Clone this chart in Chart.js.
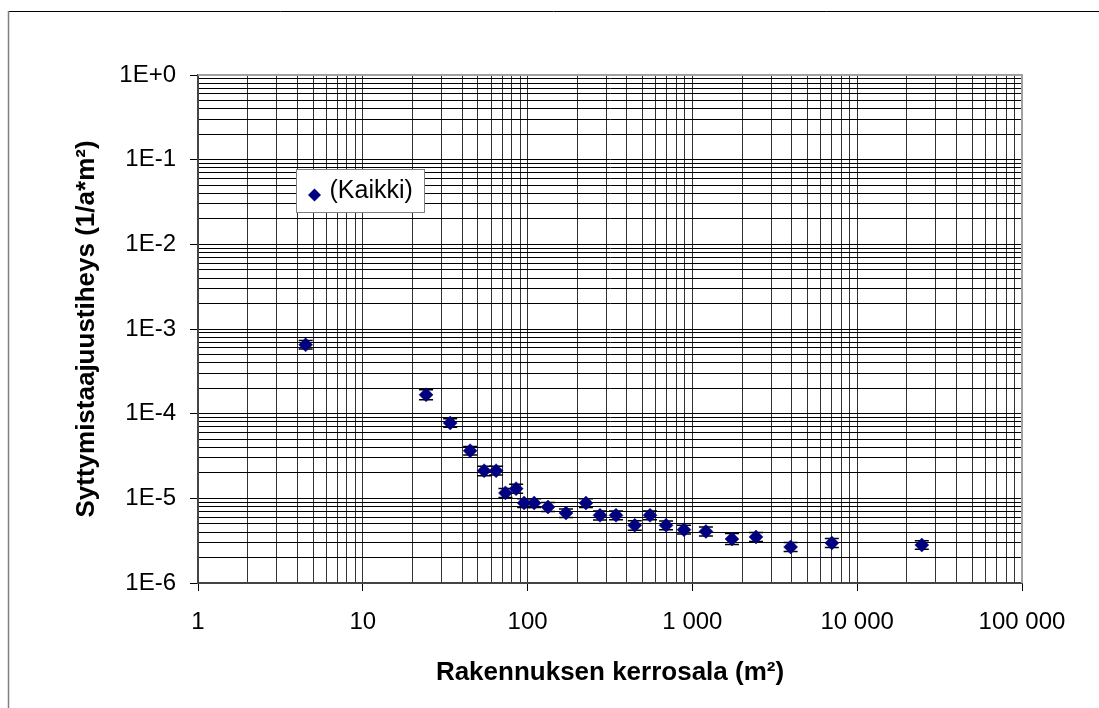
<!DOCTYPE html>
<html>
<head>
<meta charset="utf-8">
<script src="https://cdn.jsdelivr.net/npm/chart.js@4/dist/chart.umd.min.js"></script>
<style>
  html, body { margin: 0; padding: 0; background: #fff; }
  #wrap { width: 1099px; height: 708px; position: relative; }
  canvas { display: block; }
</style>
</head>
<body>
<div id="wrap"><canvas id="chart" width="1099" height="708"></canvas></div>
<script>
// Series: ignition frequency density by building floor area
const seriesName = '(Kaikki)';
const floorArea = [4.5, 24.2, 33.9, 44.8, 54.5, 64.4, 73.4, 85.2, 95.3, 109.6, 133, 171, 226, 275, 344, 447, 553, 692, 889, 1208, 1738, 2432, 3945, 7015, 24660];
const ignitionDensity = [6.5e-4, 1.67e-4, 7.75e-5, 3.65e-5, 2.12e-5, 2.12e-5, 1.16e-5, 1.30e-5, 8.8e-6, 8.8e-6, 7.9e-6, 6.7e-6, 8.8e-6, 6.3e-6, 6.3e-6, 4.8e-6, 6.3e-6, 4.8e-6, 4.26e-6, 4.07e-6, 3.31e-6, 3.50e-6, 2.66e-6, 2.97e-6, 2.81e-6];
const densityLow = [5.8e-4, 1.46e-4, 6.9e-5, 3.25e-5, 1.85e-5, 1.88e-5, 1.02e-5, 1.15e-5, 7.8e-6, 7.8e-6, 7.0e-6, 5.95e-6, 7.8e-6, 5.55e-6, 5.6e-6, 4.2e-6, 5.6e-6, 4.25e-6, 3.8e-6, 3.6e-6, 2.85e-6, 3.1e-6, 2.35e-6, 2.62e-6, 2.5e-6];
const densityHigh = [7.3e-4, 1.92e-4, 8.7e-5, 4.1e-5, 2.4e-5, 2.4e-5, 1.31e-5, 1.47e-5, 9.9e-6, 9.9e-6, 8.9e-6, 7.5e-6, 9.9e-6, 7.1e-6, 7.1e-6, 5.45e-6, 7.1e-6, 5.4e-6, 4.8e-6, 4.6e-6, 3.85e-6, 3.95e-6, 3.0e-6, 3.35e-6, 3.15e-6];

// Axis labels
const xTickLabels = ['1', '10', '100', '1 000', '10 000', '100 000'];
const yTickLabels = ['1E-6', '1E-5', '1E-4', '1E-3', '1E-2', '1E-1', '1E+0'];
const xTitle = 'Rakennuksen kerrosala (m²)';
const yTitle = 'Syttymistaajuustiheys (1/a*m²)';

const FONT = '"Liberation Sans", Arial, Helvetica, sans-serif';

// Decade ticks with minor steps 2..9 in between (grid lines at every step, labels only on decades)
function logTicks(firstExp, labels) {
  const out = [];
  for (let d = 0; d < labels.length; d++) {
    const base = Math.pow(10, firstExp + d);
    out.push({ value: base, lbl: labels[d], isMajor: true });
    if (d < labels.length - 1) {
      for (let m = 2; m <= 9; m++) out.push({ value: m * base, lbl: '', isMajor: false });
    }
  }
  return out;
}

const majorTickColor = (c) => (c.tick && c.tick.isMajor) ? '#000' : 'rgba(0,0,0,0)';

// Outer frame behind everything
const frame = {
  id: 'frame',
  beforeDraw(chart) {
    const ctx = chart.ctx;
    ctx.save();
    ctx.fillStyle = '#fff';
    ctx.fillRect(0, 0, chart.width, chart.height);
    ctx.strokeStyle = '#000';
    ctx.lineWidth = 1;
    ctx.beginPath();
    ctx.moveTo(8, 11.5);
    ctx.lineTo(chart.width, 11.5);
    ctx.stroke();
    ctx.strokeStyle = '#808080';
    ctx.lineWidth = 1.5;
    ctx.beginPath();
    ctx.moveTo(8.5, 11);
    ctx.lineTo(8.5, chart.height);
    ctx.stroke();
    ctx.restore();
  }
};

// Grey plot-area edge on top/right, then error bars under the markers
const errorBars = {
  id: 'errorBars',
  beforeDatasetsDraw(chart) {
    const { ctx, chartArea: a, scales: { x, y } } = chart;
    ctx.save();
    ctx.strokeStyle = '#a0a0a0';
    ctx.lineWidth = 2;
    ctx.beginPath();
    ctx.moveTo(a.left, a.top);
    ctx.lineTo(a.right, a.top);
    ctx.lineTo(a.right, a.bottom);
    ctx.stroke();

    ctx.strokeStyle = '#000';
    ctx.lineWidth = 1.5;
    floorArea.forEach((v, i) => {
      const px = x.getPixelForValue(v);
      const yl = y.getPixelForValue(densityLow[i]);
      const yh = y.getPixelForValue(densityHigh[i]);
      ctx.beginPath();
      ctx.moveTo(px, yl); ctx.lineTo(px, yh);
      ctx.moveTo(px - 7, yl); ctx.lineTo(px + 7, yl);
      ctx.moveTo(px - 7, yh); ctx.lineTo(px + 7, yh);
      ctx.stroke();
    });
    ctx.restore();
  }
};

// Boxed legend inside the plot area
const boxLegend = {
  id: 'boxLegend',
  afterDraw(chart) {
    const { ctx, chartArea: a } = chart;
    const bx = a.left + 98.5, by = a.top + 94.5, bw = 128, bh = 43;
    ctx.save();
    ctx.fillStyle = '#fff';
    ctx.fillRect(bx, by, bw, bh);
    ctx.strokeStyle = '#808080';
    ctx.lineWidth = 1;
    ctx.strokeRect(bx, by, bw, bh);
    const mx = bx + 18, my = by + 25.5, r = 6.5;
    ctx.fillStyle = '#000080';
    ctx.beginPath();
    ctx.moveTo(mx, my - r); ctx.lineTo(mx + r, my); ctx.lineTo(mx, my + r); ctx.lineTo(mx - r, my);
    ctx.closePath();
    ctx.fill();
    ctx.fillStyle = '#000';
    ctx.font = '25px ' + FONT;
    ctx.textBaseline = 'middle';
    ctx.textAlign = 'left';
    ctx.fillText(chart.data.datasets[0].label, bx + 33, by + 22);
    ctx.restore();
  }
};

new Chart(document.getElementById('chart'), {
  type: 'scatter',
  data: {
    datasets: [{
      label: seriesName,
      data: floorArea.map((x, i) => ({ x: x, y: ignitionDensity[i] })),
      pointStyle: 'rectRot',
      pointRadius: 7,
      pointHoverRadius: 7,
      backgroundColor: '#000080',
      borderColor: '#000080',
      borderWidth: 0.5,
      showLine: false
    }]
  },
  options: {
    responsive: false,
    devicePixelRatio: 1,
    animation: false,
    layout: { padding: { left: 0, top: 75, right: 77, bottom: 0 } },
    plugins: { legend: { display: false }, tooltip: { enabled: false } },
    scales: {
      x: {
        type: 'logarithmic',
        min: 1,
        max: 100000,
        afterBuildTicks: (s) => { s.ticks = logTicks(0, xTickLabels); },
        afterFit: (s) => { s.height = 125; },
        ticks: {
          autoSkip: false, maxRotation: 0, minRotation: 0, padding: 17,
          color: '#000', font: { family: FONT, size: 24 },
          callback: (v, i, t) => t[i].lbl
        },
        grid: { color: '#333', lineWidth: 1, drawTicks: true, tickLength: 8, tickColor: majorTickColor, tickWidth: 1 },
        border: { display: true, color: '#444', width: 2 },
        title: { display: true, text: xTitle, color: '#000', font: { family: FONT, size: 26, weight: 'bold' }, padding: { top: 0, bottom: 20 } }
      },
      y: {
        type: 'logarithmic',
        min: 1e-6,
        max: 1,
        afterBuildTicks: (s) => { s.ticks = logTicks(-6, yTickLabels); },
        afterFit: (s) => { s.width = 198; },
        ticks: {
          autoSkip: false, padding: 14,
          color: '#000', font: { family: FONT, size: 24 },
          callback: (v, i, t) => t[i].lbl
        },
        grid: { color: '#000', lineWidth: 1, drawTicks: true, tickLength: 8, tickColor: majorTickColor, tickWidth: 1 },
        border: { display: true, color: '#444', width: 2 },
        title: { display: true, text: yTitle, color: '#000', font: { family: FONT, size: 26, weight: 'bold' }, padding: { top: 71, bottom: 0 } }
      }
    }
  },
  plugins: [frame, errorBars, boxLegend]
});
</script>
</body>
</html>
